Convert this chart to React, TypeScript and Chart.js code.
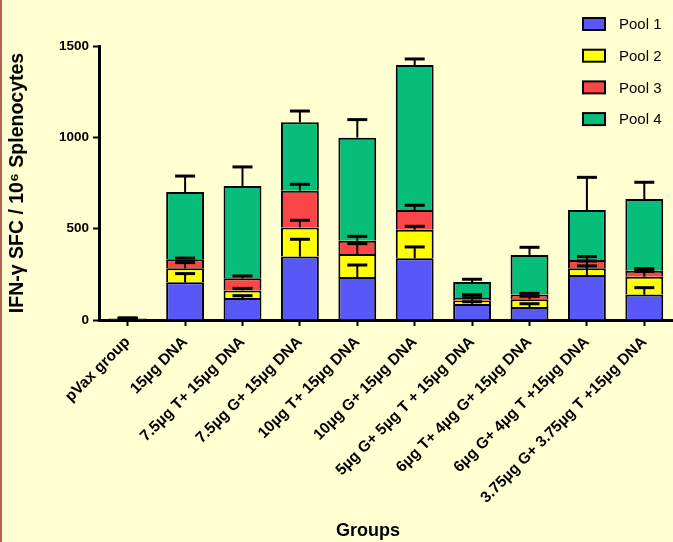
import React, { useEffect, useRef } from 'react';
import { Chart, registerables } from 'chart.js';
Chart.register(...registerables);

const categories = [
  'pVax group',
  '15µg DNA',
  '7.5µg T+ 15µg DNA',
  '7.5µg G+ 15µg DNA',
  '10µg T+ 15µg DNA',
  '10µg G+ 15µg DNA',
  '5µg G+ 5µg T + 15µg DNA',
  '6µg T+ 4µg G+ 15µg DNA',
  '6µg G+ 4µg T +15µg DNA',
  '3.75µg G+ 3.75µg T +15µg DNA',
];
const pool1 = [3, 206, 120, 347, 235, 338, 88, 71, 246, 139];
const pool1Err = [1, 48, 13, 95, 66, 62, 12, 18, 50, 38];
const pool2 = [2, 77, 42, 160, 126, 156, 18, 42, 37, 98];
const pool2Err = [1, 31, 11, 39, 57, 19, 16, 17, 40, 29];
const pool3 = [2, 49, 66, 201, 73, 108, 14, 26, 45, 33];
const pool3Err = [1, 7, 13, 35, 24, 26, 19, 7, 19, 11];
const pool4 = [3, 369, 506, 374, 564, 794, 88, 217, 274, 392];
const pool4Err = [2, 87, 104, 62, 99, 33, 15, 42, 179, 92];
const seriesNames = ['Pool 1', 'Pool 2', 'Pool 3', 'Pool 4'];
const seriesColors = ['#5858f6', '#ffff00', '#fa4646', '#06be7a'];
const yTicks = [0, 500, 1000, 1500];
const yTitle = 'IFN-γ SFC / 10⁶ Splenocytes';
const xTitle = 'Groups';

const seriesValues = [pool1, pool2, pool3, pool4];
const seriesErrors = [pool1Err, pool2Err, pool3Err, pool4Err];

const FONT = '"Liberation Sans", Arial, sans-serif';

const bgPlugin = {
  id: 'bg',
  beforeDraw(chart: any) {
    const ctx = chart.ctx;
    ctx.save();
    ctx.fillStyle = '#ffffd2';
    ctx.fillRect(0, 0, chart.width, chart.height);
    ctx.strokeStyle = '#b9624f';
    ctx.lineWidth = 2;
    ctx.beginPath();
    ctx.moveTo(1, 0);
    ctx.lineTo(1, chart.height);
    ctx.stroke();
    ctx.restore();
  },
};

const errorPlugin = {
  id: 'errbars',
  afterDatasetsDraw(chart: any) {
    const ctx = chart.ctx;
    const y = chart.scales.y;
    ctx.save();
    ctx.strokeStyle = '#000';
    for (let d = 0; d < seriesValues.length; d++) {
      const meta = chart.getDatasetMeta(d);
      for (let i = 0; i < categories.length; i++) {
        let top = 0;
        for (let k = 0; k <= d; k++) top += seriesValues[k][i];
        const x = meta.data[i].x;
        const y1 = y.getPixelForValue(top);
        const y2 = y.getPixelForValue(top + seriesErrors[d][i]);
        ctx.lineWidth = 2;
        ctx.beginPath();
        ctx.moveTo(x, y1);
        ctx.lineTo(x, y2);
        ctx.stroke();
        ctx.lineWidth = 3;
        ctx.beginPath();
        ctx.moveTo(x - 10, y2);
        ctx.lineTo(x + 10, y2);
        ctx.stroke();
      }
    }
    ctx.restore();
  },
};

const legendPlugin = {
  id: 'customLegend',
  afterDraw(chart: any) {
    const ctx = chart.ctx;
    ctx.save();
    const bx = 583;
    const y0 = 24;
    const step = 31.7;
    for (let i = 0; i < seriesNames.length; i++) {
      const cy = y0 + i * step;
      ctx.fillStyle = seriesColors[i];
      ctx.fillRect(bx, cy - 6, 22, 12);
      ctx.strokeStyle = '#000';
      ctx.lineWidth = 2;
      ctx.strokeRect(bx, cy - 6, 22, 12);
      ctx.fillStyle = '#000';
      ctx.font = `15px ${FONT}`;
      ctx.textBaseline = 'middle';
      ctx.textAlign = 'left';
      ctx.fillText(seriesNames[i], 619, cy + 1);
    }
    ctx.font = `bold 18px ${FONT}`;
    ctx.textAlign = 'center';
    ctx.textBaseline = 'middle';
    ctx.fillText(xTitle, 368, 531);
    ctx.restore();
  },
};

export default function App() {
  const ref = useRef<HTMLCanvasElement>(null);
  useEffect(() => {
    if (!ref.current) return;
    const chart = new Chart(ref.current, {
      type: 'bar',
      data: {
        labels: categories,
        datasets: seriesNames.map((n, i) => ({
          label: n,
          data: seriesValues[i],
          backgroundColor: seriesColors[i],
          borderColor: '#000',
          borderWidth: 2,
          categoryPercentage: 1,
          barPercentage: 0.66,
        })),
      },
      options: {
        responsive: false,
        animation: false,
        layout: { padding: { top: 46, right: 0, bottom: 0, left: 0 } },
        plugins: { legend: { display: false }, tooltip: { enabled: false } },
        scales: {
          x: {
            stacked: true,
            grid: { offset: false, drawOnChartArea: false, drawTicks: true, tickLength: 6, tickWidth: 2, tickColor: '#000' },
            border: { display: true, color: '#000', width: 3 },
            ticks: {
              autoSkip: false,
              minRotation: 45,
              maxRotation: 45,
              color: '#000',
              padding: 7,
              font: { family: FONT, size: 15.5, weight: 'bold' },
            },
            afterFit(scale: any) {
              scale.height = 222;
              scale.paddingLeft = 0;
              scale.paddingRight = 0;
            },
          },
          y: {
            stacked: true,
            min: 0,
            max: 1500,
            afterBuildTicks(scale: any) {
              scale.ticks = yTicks.map((v) => ({ value: v }));
            },
            grid: { drawOnChartArea: false, drawTicks: true, tickLength: 6, tickWidth: 2, tickColor: '#000' },
            border: { display: true, color: '#000', width: 3 },
            ticks: {
              color: '#000',
              padding: 4,
              callback: (v: any) => String(v),
              font: { family: FONT, size: 13.5, weight: 'bold' },
            },
            title: {
              display: true,
              text: yTitle,
              color: '#000',
              padding: { top: 6, bottom: 0 },
              font: { family: FONT, size: 19.5, weight: 'bold' },
            },
            afterFit(scale: any) {
              scale.width = 99;
            },
          },
        },
      },
      plugins: [bgPlugin, errorPlugin, legendPlugin],
    });
    return () => chart.destroy();
  }, []);
  return (
    <div style={{ position: 'absolute', left: 0, top: 0, width: 673, height: 542 }}>
      <canvas ref={ref} width={673} height={542} style={{ display: 'block' }} />
    </div>
  );
}
